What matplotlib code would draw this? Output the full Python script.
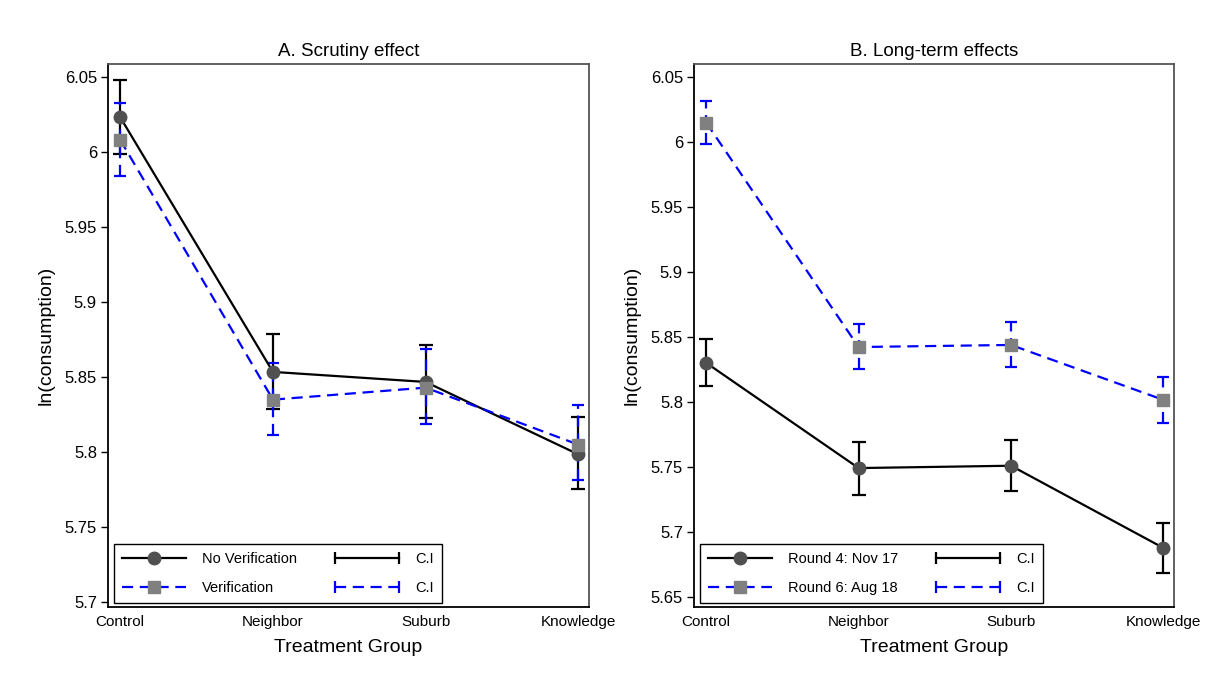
import matplotlib
matplotlib.use("Agg")
import matplotlib.pyplot as plt
from matplotlib.lines import Line2D
from matplotlib.legend_handler import HandlerBase

plt.rcParams['font.family'] = ['Liberation Sans', 'DejaVu Sans']

groups = ["Control", "Neighbor", "Suburb", "Knowledge"]

# Panel A: Scrutiny effect
a_nover = [6.0233, 5.8535, 5.8468, 5.7985]
a_nover_lo = [5.9987, 5.8287, 5.8227, 5.7755]
a_nover_hi = [6.0480, 5.8790, 5.8717, 5.8233]
a_ver = [6.0082, 5.8350, 5.8430, 5.8050]
a_ver_lo = [5.9840, 5.8113, 5.8187, 5.7813]
a_ver_hi = [6.0330, 5.8593, 5.8687, 5.8313]

# Panel B: Long-term effects
b_r4 = [5.8300, 5.7490, 5.7508, 5.6875]
b_r4_lo = [5.8123, 5.7285, 5.7315, 5.6680]
b_r4_hi = [5.8485, 5.7692, 5.7708, 5.7070]
b_r6 = [6.0150, 5.8422, 5.8438, 5.8015]
b_r6_lo = [5.9985, 5.8254, 5.8268, 5.7838]
b_r6_hi = [6.0320, 5.8600, 5.8612, 5.8190]

a_yticks = [5.7, 5.75, 5.8, 5.85, 5.9, 5.95, 6.0, 6.05]
a_yticklabels = ["5.7", "5.75", "5.8", "5.85", "5.9", "5.95", "6", "6.05"]
b_yticks = [5.65, 5.7, 5.75, 5.8, 5.85, 5.9, 5.95, 6.0, 6.05]
b_yticklabels = ["5.65", "5.7", "5.75", "5.8", "5.85", "5.9", "5.95", "6", "6.05"]

BLUE = "#0000ff"
DASH = (0, (5, 3))


class HandlerCI(HandlerBase):
    def __init__(self, color, ls):
        super().__init__()
        self.color = color
        self.ls = ls

    def create_artists(self, legend, orig_handle, xdescent, ydescent,
                       width, height, fontsize, trans):
        y = height / 2 - ydescent
        x0, x1 = -xdescent, -xdescent + width
        ln = Line2D([x0, x1], [y, y], color=self.color,
                    linestyle=self.ls, linewidth=1.6)
        caps = Line2D([x0, x1], [y, y], color=self.color,
                      linestyle='none', marker='|', markersize=8,
                      markeredgewidth=1.6)
        ln.set_transform(trans)
        caps.set_transform(trans)
        return [ln, caps]


def draw_panel(ax, s1, lo1, hi1, s2, lo2, hi2, lab1, lab2, title, ylim,
               yticks, yticklabels):
    x = list(range(len(groups)))
    yerr1 = [[v - l for v, l in zip(s1, lo1)], [h - v for v, h in zip(s1, hi1)]]
    yerr2 = [[v - l for v, l in zip(s2, lo2)], [h - v for v, h in zip(s2, hi2)]]
    ax.errorbar(x, s1, yerr=yerr1, fmt='none', ecolor='black',
                elinewidth=1.6, capsize=5, capthick=1.6, zorder=3)
    eb2 = ax.errorbar(x, s2, yerr=yerr2, fmt='none', ecolor=BLUE,
                      elinewidth=1.6, capsize=4, capthick=1.6, zorder=3)
    for c in eb2[2]:
        c.set_linestyle(DASH)
    ax.plot(x, s1, color='black', lw=1.6, zorder=4)
    ax.plot(x, s2, color=BLUE, lw=1.6, linestyle=DASH, zorder=4)
    ax.plot(x, s1, linestyle='none', marker='o', markersize=9,
            color='#505050', zorder=5)
    ax.plot(x, s2, linestyle='none', marker='s', markersize=8,
            color='#808080', zorder=5)

    ax.set_xlim(-0.08, 3.07)
    ax.set_ylim(*ylim)
    ax.set_xticks(x)
    ax.set_xticklabels(groups, fontsize=11)
    ax.tick_params(axis='x', length=0, pad=6)
    ax.set_yticks(yticks)
    ax.set_yticklabels(yticklabels, fontsize=12)
    ax.tick_params(axis='y', length=5, width=1, pad=3)
    ax.set_xlabel("Treatment Group", fontsize=14, labelpad=7)
    ax.set_ylabel("ln(consumption)", fontsize=14, labelpad=7)
    ax.set_title(title, fontsize=13.5, pad=6)
    for s in ['left', 'bottom']:
        ax.spines[s].set_color('black')
        ax.spines[s].set_linewidth(1.3)
    for s in ['top', 'right']:
        ax.spines[s].set_color('#555555')
        ax.spines[s].set_linewidth(1.3)

    h1 = Line2D([], [], color='black', lw=1.6, marker='o', markersize=9,
                markerfacecolor='#505050', markeredgecolor='#505050')
    h2 = Line2D([], [], color=BLUE, lw=1.6, linestyle=DASH, marker='s',
                markersize=8, markerfacecolor='#808080',
                markeredgecolor='#808080')
    c1 = Line2D([], [], color='black')
    c2 = Line2D([], [], color=BLUE)
    leg = ax.legend([h1, h2, c1, c2], [lab1, lab2, "C.I", "C.I"], ncol=2,
                    loc='lower left', bbox_to_anchor=(0.012, 0.008),
                    borderaxespad=0, fontsize=10.5, handlelength=4.4,
                    handletextpad=1.1, columnspacing=2.6, labelspacing=1.0,
                    numpoints=1, fancybox=False, edgecolor='black',
                    framealpha=1, borderpad=0.55,
                    handler_map={c1: HandlerCI('black', '-'),
                                 c2: HandlerCI(BLUE, DASH)})
    leg.get_frame().set_linewidth(1.0)
    return leg


fig = plt.figure(figsize=(12.07, 6.88), dpi=100)
ax1 = fig.add_axes([0.0895, 0.1177, 0.3985, 0.789])
ax2 = fig.add_axes([0.575, 0.1177, 0.3977, 0.789])

draw_panel(ax1, a_nover, a_nover_lo, a_nover_hi, a_ver, a_ver_lo, a_ver_hi,
           "No Verification", "Verification", "A. Scrutiny effect",
           (5.6967, 6.0587), a_yticks, a_yticklabels)
draw_panel(ax2, b_r4, b_r4_lo, b_r4_hi, b_r6, b_r6_lo, b_r6_hi,
           "Round 4: Nov 17", "Round 6: Aug 18", "B. Long-term effects",
           (5.642, 6.06), b_yticks, b_yticklabels)

fig.savefig("out.png", dpi=100, facecolor='white')
